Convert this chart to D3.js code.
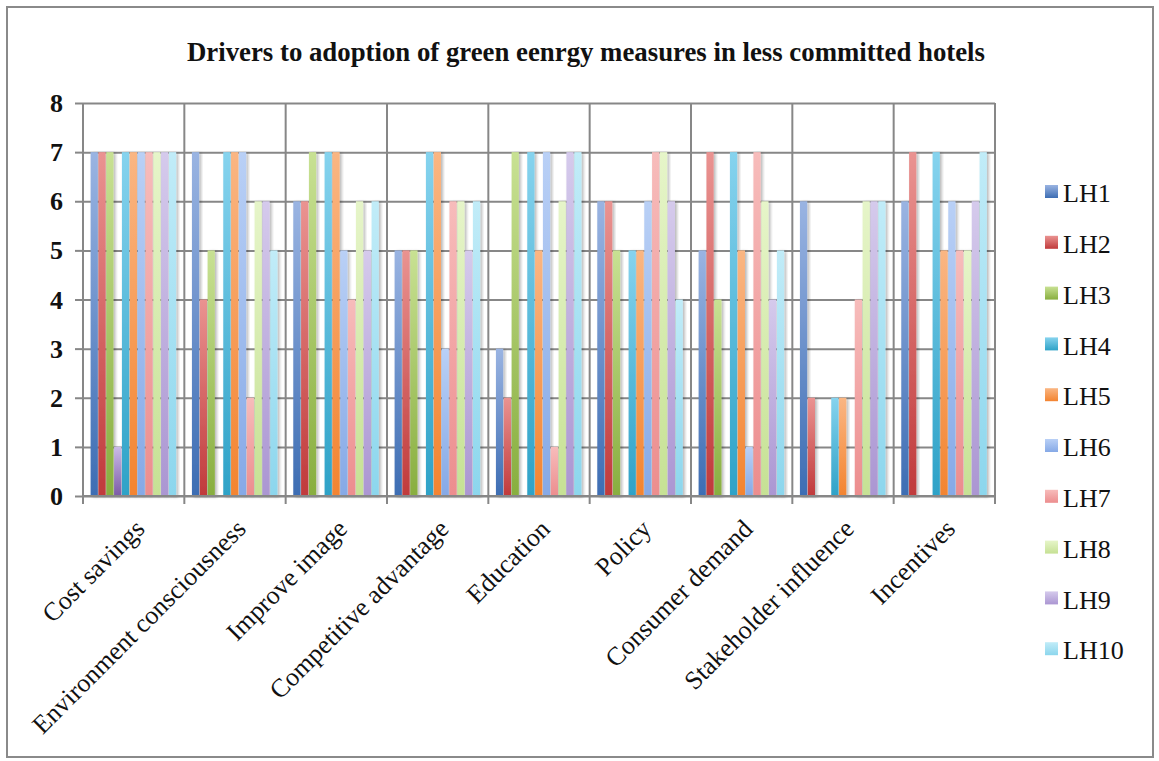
<!DOCTYPE html>
<html>
<head>
<meta charset="utf-8">
<script src="https://cdn.jsdelivr.net/npm/d3@7/dist/d3.min.js"></script>
<style>
  html, body { margin: 0; padding: 0; background: #ffffff; }
  svg { display: block; }
</style>
</head>
<body>
<svg id="chart" width="1159" height="761"></svg>
<script>
// Survey scores per driver for the less committed hotels (LH1..LH10)
const categories = ["Cost savings", "Environment consciousness", "Improve image",
  "Competitive advantage", "Education", "Policy", "Consumer demand",
  "Stakeholder influence", "Incentives"];

const LH1  = [7, 7, 6, 5, 3, 6, 5, 6, 6];
const LH2  = [7, 4, 6, 5, 2, 6, 7, 2, 7];
const LH3  = [7, 5, 7, 5, 7, 5, 4, 0, 0];
const extraSeries = [1, 0, 0, 0, 0, 0, 0, 0, 0]; // unlabelled series, not in legend
const LH4  = [7, 7, 7, 7, 7, 5, 7, 2, 7];
const LH5  = [7, 7, 7, 7, 5, 5, 5, 2, 5];
const LH6  = [7, 7, 5, 3, 7, 6, 1, 0, 6];
const LH7  = [7, 2, 4, 6, 1, 7, 7, 4, 5];
const LH8  = [7, 6, 6, 6, 6, 7, 6, 6, 5];
const LH9  = [7, 6, 5, 5, 7, 6, 4, 6, 6];
const LH10 = [7, 5, 6, 6, 7, 4, 5, 6, 7];

const seriesNames = ["LH1", "LH2", "LH3", "", "LH4", "LH5", "LH6", "LH7", "LH8", "LH9", "LH10"];
const seriesValues = [LH1, LH2, LH3, extraSeries, LH4, LH5, LH6, LH7, LH8, LH9, LH10];
const yTicks = [0, 1, 2, 3, 4, 5, 6, 7, 8];

// Bar colours: [bottom (base), top (highlight)]
const palette = [
  ["#3d6db3", "#9ab4e2"],
  ["#c03a3b", "#ea9391"],
  ["#88ae3f", "#c8e193"],
  ["#7b5ba6", "#cbbbe8"],
  ["#2ea2c7", "#86d3ee"],
  ["#f38430", "#fab683"],
  ["#86a9e6", "#b9d0f6"],
  ["#ec8d8e", "#f7bcbb"],
  ["#c6e194", "#e6f5c9"],
  ["#ab96d2", "#d5caec"],
  ["#8cd6ed", "#c1ecf8"]
];

const serif = "'Liberation Serif', 'Times New Roman', Times, serif";

const svg = d3.select("#chart");
const defs = svg.append("defs");

palette.forEach((c, i) => {
  const g = defs.append("linearGradient")
    .attr("id", "grad" + i)
    .attr("x1", 0).attr("y1", 0).attr("x2", 0).attr("y2", 1);
  g.append("stop").attr("offset", "0%").attr("stop-color", c[1]);
  g.append("stop").attr("offset", "100%").attr("stop-color", c[0]);
});

const shadow = defs.append("filter").attr("id", "barShadow")
  .attr("x", "-50%").attr("y", "-5%").attr("width", "200%").attr("height", "110%");
shadow.append("feDropShadow")
  .attr("dx", 2).attr("dy", 1).attr("stdDeviation", 1.6)
  .attr("flood-color", "#000").attr("flood-opacity", 0.28);

// Outer chart frame
svg.append("rect")
  .attr("x", 7).attr("y", 7).attr("width", 1146).attr("height", 750)
  .attr("fill", "none").attr("stroke", "#8a8a8a").attr("stroke-width", 2);

const plot = { left: 83, right: 995, top: 103, bottom: 496 };

const x0 = d3.scaleBand()
  .domain(categories)
  .range([plot.left, plot.right])
  .paddingInner(0.15)
  .paddingOuter(0.075);

const x1 = d3.scaleBand()
  .domain(d3.range(seriesNames.length))
  .range([0, x0.bandwidth()])
  .padding(0);

const y = d3.scaleLinear().domain([0, 8]).range([plot.bottom, plot.top]);

const gridColor = "#878787";

// Horizontal gridlines with y-axis ticks
svg.append("g")
  .attr("transform", `translate(${plot.left},0)`)
  .call(d3.axisLeft(y).tickValues(yTicks).tickSize(-(plot.right - plot.left)).tickFormat(""))
  .call(g => g.select(".domain").remove())
  .call(g => g.selectAll("line").attr("stroke", gridColor).attr("stroke-width", 2))
  .call(g => g.selectAll(".tick").append("line")
    .attr("x1", -8).attr("x2", 0).attr("stroke", gridColor).attr("stroke-width", 2));

// Vertical gridlines at category boundaries
const boundaries = categories.map(c => x0(c) - x0.step() * x0.paddingInner() / 2)
  .concat([plot.right]);
svg.append("g").selectAll("line")
  .data(boundaries)
  .join("line")
  .attr("x1", d => d).attr("x2", d => d)
  .attr("y1", plot.top).attr("y2", plot.bottom + 8)
  .attr("stroke", gridColor).attr("stroke-width", 2);

// Bars
const groups = svg.append("g").selectAll("g")
  .data(categories)
  .join("g")
  .attr("transform", c => `translate(${x0(c)},0)`);

groups.selectAll("rect")
  .data((c, ci) => seriesValues.map((vals, si) => ({ si, v: vals[ci] })))
  .join("rect")
  .filter(d => d.v > 0)
  .attr("x", d => x1(d.si))
  .attr("y", d => y(d.v))
  .attr("width", x1.bandwidth() - 0.6)
  .attr("height", d => y(0) - y(d.v))
  .attr("fill", d => `url(#grad${d.si})`)
  .attr("filter", "url(#barShadow)");

// Axis baseline
svg.append("line")
  .attr("x1", plot.left).attr("x2", plot.right)
  .attr("y1", plot.bottom).attr("y2", plot.bottom)
  .attr("stroke", gridColor).attr("stroke-width", 2);

// Y tick labels
svg.append("g").selectAll("text")
  .data(yTicks)
  .join("text")
  .attr("x", 63)
  .attr("y", d => y(d))
  .attr("dy", "0.35em")
  .attr("text-anchor", "end")
  .attr("font-family", serif)
  .attr("font-weight", "bold")
  .attr("font-size", 26)
  .attr("fill", "#111")
  .text(d => d);

// X category labels, rotated
svg.append("g").selectAll("text")
  .data(categories)
  .join("text")
  .attr("transform", c => `translate(${x0(c) + x0.bandwidth() / 2 + 6},${plot.bottom + 28}) rotate(-45)`)
  .attr("text-anchor", "end")
  .attr("dy", "0.35em")
  .attr("font-family", serif)
  .attr("font-size", 26)
  .attr("fill", "#111")
  .text(c => c);

// Title
svg.append("text")
  .attr("x", 586)
  .attr("y", 61)
  .attr("text-anchor", "middle")
  .attr("font-family", serif)
  .attr("font-weight", "bold")
  .attr("font-size", 28)
  .attr("textLength", 798)
  .attr("lengthAdjust", "spacingAndGlyphs")
  .attr("fill", "#111")
  .text("Drivers to adoption of green eenrgy measures in less committed hotels");

// Legend (labelled series only)
const legendItems = seriesNames.map((n, i) => ({ n, i })).filter(d => d.n !== "");
const legend = svg.append("g").selectAll("g")
  .data(legendItems)
  .join("g")
  .attr("transform", (d, k) => `translate(1045,${193 + k * 50.8})`);

legend.append("rect")
  .attr("x", 0).attr("y", -8)
  .attr("width", 13).attr("height", 13)
  .attr("fill", d => `url(#grad${d.i})`);

legend.append("text")
  .attr("x", 18)
  .attr("y", 0)
  .attr("dy", "0.35em")
  .attr("font-family", serif)
  .attr("font-size", 26)
  .attr("fill", "#111")
  .text(d => d.n);
</script>
</body>
</html>
